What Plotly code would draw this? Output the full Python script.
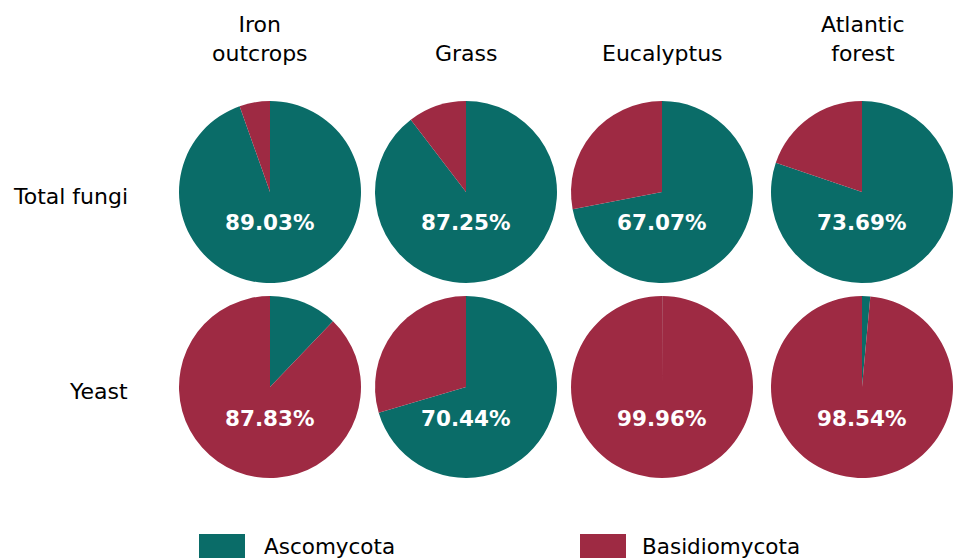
import plotly.graph_objects as go

W, H = 957, 558

sites = ['Iron<br>outcrops', 'Grass', 'Eucalyptus', 'Atlantic<br>forest']
groups = ['Total fungi', 'Yeast']
phyla = ['Ascomycota', 'Basidiomycota']
colors = ['#0a6c68', '#9e2a43']

# relative abundance (%) per site
asco_total = [89.03, 87.25, 67.07, 73.69]
basidio_total = [5.1, 10.1, 26.1, 18.2]
asco_yeast = [12.17, 70.44, 0.04, 1.46]
basidio_yeast = [87.83, 29.56, 99.96, 98.54]

rows = [(asco_total, basidio_total), (asco_yeast, basidio_yeast)]

# layout of the grid (pixels)
col_cx = [270, 466, 662, 862]
head_x = [260, 466, 662, 863]
row_cy = [192, 387]
R = 91
FS = 22

fig = go.Figure()
ann = []
for r, (asco, basidio) in enumerate(rows):
    for c in range(len(sites)):
        cx, cy = col_cx[c], row_cy[r]
        vals = [asco[c], basidio[c]]
        fig.add_trace(go.Pie(
            labels=phyla, values=vals, sort=False, direction='clockwise', rotation=0,
            marker=dict(colors=colors, line=dict(width=0)),
            textinfo='none', showlegend=False,
            domain=dict(x=[(cx - R) / W, (cx + R) / W], y=[1 - (cy + R) / H, 1 - (cy - R) / H]),
        ))
        ann.append(dict(text='%.2f%%' % max(vals), x=cx / W, y=1 - (cy + 31) / H,
                        xref='paper', yref='paper', xanchor='center', yanchor='middle',
                        showarrow=False,
                        font=dict(family='DejaVu Sans', size=21.5, color='white', weight='bold')))

for c, s in enumerate(sites):
    ann.append(dict(text=s, x=head_x[c] / W, y=1 - 68 / H, xref='paper', yref='paper',
                    xanchor='center', yanchor='bottom', showarrow=False, font=dict(size=FS)))
for r, g in enumerate(groups):
    ann.append(dict(text=g, x=130 / W, y=1 - (row_cy[r] + 4) / H, xref='paper', yref='paper',
                    xanchor='right', yanchor='middle', showarrow=False, font=dict(size=FS)))

# legend drawn by hand: big colour boxes
shapes = []
leg_x = [199, 580]
leg_tx = [262, 640]
for i, p in enumerate(phyla):
    x0 = leg_x[i]
    shapes.append(dict(type='rect', xref='paper', yref='paper', x0=x0 / W, x1=(x0 + 46) / W,
                       y0=1 - 560 / H, y1=1 - 534 / H, fillcolor=colors[i], line=dict(width=0)))
    ann.append(dict(text=p, x=leg_tx[i] / W, y=1 - 546 / H, xref='paper', yref='paper',
                    xanchor='left', yanchor='middle', showarrow=False, font=dict(size=21.5)))

fig.update_layout(
    width=W, height=H, margin=dict(l=0, r=0, t=0, b=0),
    paper_bgcolor='white', plot_bgcolor='white',
    font=dict(family='DejaVu Sans', color='black'),
    annotations=ann, shapes=shapes,
)
fig.write_html("out.html", config={'displayModeBar': False},
               post_script="document.body.style.margin='0';")
